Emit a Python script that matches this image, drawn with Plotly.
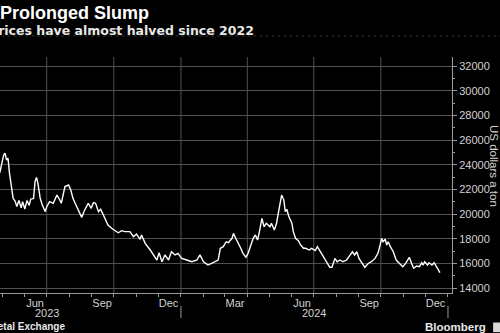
import plotly.graph_objects as go

# LME daily price series, US dollars a ton
price_dates = [
    "2023-04-24", "2023-04-28", "2023-05-03", "2023-05-05", "2023-05-07", "2023-05-09",
    "2023-05-11", "2023-05-14", "2023-05-16", "2023-05-19", "2023-05-21", "2023-05-24",
    "2023-05-27", "2023-05-29", "2023-06-01", "2023-06-04", "2023-06-07", "2023-06-09",
    "2023-06-13", "2023-06-15", "2023-06-17", "2023-06-19", "2023-06-22", "2023-06-25",
    "2023-06-29", "2023-07-01", "2023-07-05", "2023-07-10", "2023-07-15", "2023-07-19",
    "2023-07-21", "2023-07-26", "2023-07-31", "2023-08-03", "2023-08-06", "2023-08-09",
    "2023-08-13", "2023-08-18", "2023-08-22", "2023-08-27", "2023-08-31", "2023-09-03",
    "2023-09-06", "2023-09-10", "2023-09-13", "2023-09-19", "2023-09-23", "2023-09-28",
    "2023-10-03", "2023-10-07", "2023-10-12", "2023-10-16", "2023-10-23", "2023-10-28",
    "2023-11-01", "2023-11-06", "2023-11-08", "2023-11-13", "2023-11-20", "2023-11-24",
    "2023-11-29", "2023-12-02", "2023-12-06", "2023-12-10", "2023-12-15", "2023-12-19",
    "2023-12-24", "2023-12-28",
    "2024-01-02", "2024-01-09", "2024-01-16", "2024-01-23", "2024-01-27", "2024-02-01",
    "2024-02-07", "2024-02-12", "2024-02-17", "2024-02-21", "2024-02-24", "2024-02-28",
    "2024-03-03", "2024-03-06", "2024-03-11", "2024-03-13", "2024-03-16", "2024-03-20",
    "2024-03-23", "2024-03-26", "2024-03-30", "2024-04-02", "2024-04-06", "2024-04-09",
    "2024-04-12", "2024-04-15", "2024-04-18", "2024-04-21", "2024-04-24", "2024-04-27",
    "2024-05-02", "2024-05-04", "2024-05-08", "2024-05-11", "2024-05-13", "2024-05-16",
    "2024-05-18", "2024-05-21", "2024-05-23", "2024-05-25", "2024-05-28", "2024-06-01",
    "2024-06-03", "2024-06-06", "2024-06-10", "2024-06-13", "2024-06-17", "2024-06-20",
    "2024-06-25", "2024-06-28", "2024-07-03", "2024-07-06", "2024-07-10", "2024-07-14",
    "2024-07-19", "2024-07-23", "2024-07-26", "2024-07-30", "2024-08-02", "2024-08-06",
    "2024-08-10", "2024-08-15", "2024-08-20", "2024-08-23", "2024-08-26", "2024-08-29",
    "2024-09-01", "2024-09-05", "2024-09-09", "2024-09-14", "2024-09-18", "2024-09-23",
    "2024-09-27", "2024-09-30", "2024-10-02", "2024-10-04", "2024-10-07", "2024-10-09",
    "2024-10-11", "2024-10-14", "2024-10-18", "2024-10-22", "2024-10-26", "2024-10-31",
    "2024-11-04", "2024-11-09", "2024-11-12", "2024-11-15", "2024-11-19", "2024-11-23",
    "2024-11-26", "2024-11-28", "2024-11-30", "2024-12-04", "2024-12-06", "2024-12-10",
    "2024-12-13", "2024-12-16", "2024-12-19", "2024-12-21",
]
price_usd = [
    22800, 23430, 24780, 24920, 24380, 24520,
    23300, 21950, 21270, 21000, 20600, 21100,
    20500, 21000, 20400, 21100, 20700, 21200,
    21270, 22620, 22970, 22490, 21300, 20730,
    20190, 20590, 21000, 20870, 21540, 21130,
    20870, 22220, 22350, 21950, 21270, 20870,
    20320, 19730, 20320, 20870, 20460, 20920,
    20870, 20190, 20380, 19650, 19110, 18840,
    18650, 18480, 18650, 18570, 18570, 18160,
    18380, 17950, 18300, 17620, 17080, 16700,
    16270, 16860, 16130, 16680, 16270, 16940,
    16680, 16810,
    16400, 16270, 16130, 16270, 16680, 16130,
    15860, 16000, 16130, 16270, 17220, 17350,
    17750, 17680, 18030, 18430, 18030, 17620,
    17220, 16810, 16490, 16810, 17490, 18030,
    18300, 17890, 18700, 19650, 18970, 19250,
    18970, 19250, 18700, 19250, 19920, 20870,
    21540, 21130, 20190, 20380, 19780, 19250,
    18570, 18030, 17840, 17490, 17220, 17220,
    17080, 17220, 17030, 17350, 16940, 16540,
    16130, 15680, 15680, 16400, 16130, 16270,
    16130, 16270, 16680, 16940, 16680, 16940,
    16400, 16000, 15680, 16000, 16130, 16400,
    16810, 17490, 18030, 17750, 17950, 17490,
    17750, 17350, 16940, 16270, 16000, 15730,
    16000, 16490, 16000, 15600, 15780, 15730,
    16050, 15860, 16130, 15860, 16050, 15860,
    16050, 15730, 15460, 15240,
]

# Axis furniture
x_window = ["2023-04-28", "2025-01-06 12:00"]
y_window = [13595, 32730]
y_ticks = [14000, 16000, 18000, 20000, 22000, 24000, 26000, 28000, 30000, 32000]
month_label_dates = ["2023-06-15", "2023-09-15", "2023-12-15", "2024-03-15",
                     "2024-06-15", "2024-09-15", "2024-12-15"]
month_labels = ["Jun", "Sep", "Dec", "Mar", "Jun", "Sep", "Dec"]
month_starts = ["2023-05-01", "2023-06-01", "2023-07-01", "2023-08-01", "2023-09-01",
                "2023-10-01", "2023-11-01", "2023-12-01", "2024-01-01", "2024-02-01",
                "2024-03-01", "2024-04-01", "2024-05-01", "2024-06-01", "2024-07-01",
                "2024-08-01", "2024-09-01", "2024-10-01", "2024-11-01", "2024-12-01",
                "2025-01-01"]
quarter_grid = ["2023-07-01", "2023-10-01", "2024-01-01", "2024-04-01",
                "2024-07-01", "2024-10-01"]
year_breaks = ["2024-01-01", "2025-01-01"]
year_label_dates = ["2023-07-01", "2024-07-01"]
year_labels = ["2023", "2024"]

AXIS = "#9a9a9a"
GRID = "#505050"
TICKTXT = "#d2d2d2"
FONT = "Liberation Sans"

fig = go.Figure()
fig.add_trace(go.Scatter(
    x=price_dates, y=price_usd, mode="lines",
    line=dict(color="white", width=1.4), hoverinfo="skip", showlegend=False,
))

shapes = []
for d in quarter_grid:
    shapes.append(dict(type="line", xref="x", yref="paper", x0=d, x1=d, y0=0, y1=1,
                       line=dict(color=GRID, width=1), layer="below"))
for d in year_breaks:
    shapes.append(dict(type="line", xref="x", yref="paper", x0=d, x1=d, y0=-0.055, y1=-0.106,
                       line=dict(color=AXIS, width=1)))
# faint dotted rule under the header
shapes.append(dict(type="line", xref="paper", yref="paper", x0=-0.05, x1=1.2, y0=1.089, y1=1.089,
                   line=dict(color="#333333", width=1, dash="dot")))
# logo mark
shapes.append(dict(type="rect", xref="paper", yref="paper", x0=1.091, x1=1.115, y0=-0.125, y1=-0.166,
                   fillcolor="#d8d8d8", line=dict(width=0)))

annotations = []
for d, t in zip(year_label_dates, year_labels):
    annotations.append(dict(x=d, xref="x", y=-0.085, yref="paper", text=t, showarrow=False,
                            xanchor="center", yanchor="middle",
                            font=dict(family=FONT, size=11, color=TICKTXT)))
annotations += [
    dict(x=0, xref="paper", xshift=-2, y=1.188, yref="paper", text="<b>Prolonged Slump</b>",
         showarrow=False, xanchor="left", yanchor="middle",
         font=dict(family=FONT, size=18, color="white")),
    dict(x=0, xref="paper", xshift=-13, y=1.114, yref="paper",
         text="<b>Prices have almost halved since 2022</b>",
         showarrow=False, xanchor="left", yanchor="middle",
         font=dict(family="DejaVu Sans", size=12.5, color="#e8e8e8")),
    dict(x=1, xref="paper", xshift=42, y=0.538, yref="paper", text="US dollars a ton",
         textangle=90, showarrow=False, xanchor="center", yanchor="middle",
         font=dict(family=FONT, size=11.5, color=TICKTXT)),
    dict(x=0.1438, xref="paper", xshift=2, y=-0.143, yref="paper",
         text="<b>Source: London Metal Exchange</b>", showarrow=False,
         xanchor="right", yanchor="middle",
         font=dict(family=FONT, size=10, color="#e8e8e8")),
    dict(x=1.0774, xref="paper", xshift=1, y=-0.143, yref="paper", text="<b>Bloomberg</b>",
         showarrow=False, xanchor="right", yanchor="middle",
         font=dict(family=FONT, size=11.5, color="#e8e8e8")),
]

fig.update_layout(
    width=500, height=333,
    margin=dict(l=0, r=48, t=57, b=40),
    paper_bgcolor="black", plot_bgcolor="black",
    showlegend=False,
    shapes=shapes, annotations=annotations,
    xaxis=dict(
        type="date", range=x_window,
        tickmode="array", tickvals=month_label_dates, ticktext=month_labels,
        ticks="", showgrid=False, zeroline=False,
        showline=True, linecolor=AXIS, linewidth=1,
        tickfont=dict(family=FONT, size=11, color=TICKTXT),
        minor=dict(tickmode="array", tickvals=month_starts, ticks="outside",
                   ticklen=3, tickcolor=AXIS, showgrid=False),
    ),
    yaxis=dict(
        side="right", range=y_window,
        tickmode="array", tickvals=y_ticks, tickformat="d",
        showgrid=True, gridcolor=GRID, gridwidth=1, zeroline=False,
        ticks="outside", ticklen=4, tickcolor=AXIS,
        showline=True, linecolor=AXIS, linewidth=1,
        tickfont=dict(family=FONT, size=11, color=TICKTXT),
        minor=dict(ticks="outside", dtick=1000, ticklen=2, tickcolor=AXIS, showgrid=False),
    ),
)

fig.write_html("out.html")
